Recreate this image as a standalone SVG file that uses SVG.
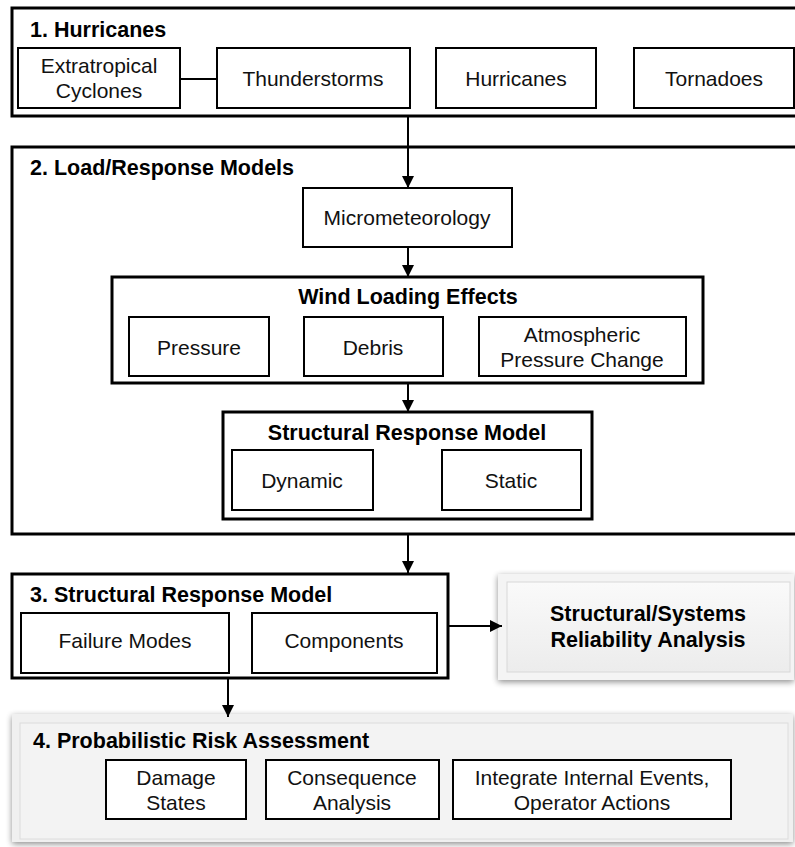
<svg xmlns="http://www.w3.org/2000/svg" width="795" height="847" viewBox="0 0 795 847">
<defs>
<style>
.outer{fill:#fff;stroke:#000;stroke-width:3}
.box{fill:#fff;stroke:#000;stroke-width:2}
.t{font-family:"Liberation Sans",Arial,sans-serif;font-size:21px;fill:#111;text-anchor:middle}
.h{font-family:"Liberation Sans",Arial,sans-serif;font-size:21.5px;font-weight:bold;fill:#000}
.c{fill:none;stroke:#000;stroke-width:2}
</style>
<marker id="arr" viewBox="0 0 12 12" refX="12" refY="6" markerWidth="12" markerHeight="12" markerUnits="userSpaceOnUse" orient="auto">
<path d="M0,0 L12,6 L0,12 Z" fill="#000"/>
</marker>
<filter id="sh" x="-5%" y="-10%" width="110%" height="125%">
<feGaussianBlur in="SourceAlpha" stdDeviation="3"/>
<feOffset dx="0" dy="2" result="b"/>
<feComponentTransfer><feFuncA type="linear" slope="0.45"/></feComponentTransfer>
<feMerge><feMergeNode/><feMergeNode in="SourceGraphic"/></feMerge>
</filter>
<linearGradient id="bev" x1="0" y1="0" x2="0" y2="1">
<stop offset="0" stop-color="#fafafa"/>
<stop offset="1" stop-color="#ececec"/>
</linearGradient>
</defs>
<rect width="795" height="847" fill="#fff"/>

<g id="hurricanes-group">
<rect class="outer" x="12" y="8" width="800" height="108"/>
<text class="h" x="30" y="37">1. Hurricanes</text>
</g>
<g id="extratropical">
<rect class="box" x="18" y="48" width="162" height="60"/>
<text class="t" x="99" y="73">Extratropical</text>
<text class="t" x="99" y="98">Cyclones</text>
</g>
<g id="thunderstorms">
<rect class="box" x="217" y="48" width="193" height="60"/>
<text class="t" x="313" y="86">Thunderstorms</text>
</g>
<g id="hurricanes">
<rect class="box" x="436" y="48" width="160" height="60"/>
<text class="t" x="516" y="86">Hurricanes</text>
</g>
<g id="tornadoes">
<rect class="box" x="634" y="48" width="160" height="60"/>
<text class="t" x="714" y="86">Tornadoes</text>
</g>

<g id="load-response">
<rect class="outer" x="12" y="147" width="800" height="387"/>
<text class="h" x="30" y="175">2. Load/Response Models</text>
</g>
<g id="micrometeorology">
<rect class="box" x="303" y="188" width="209" height="59"/>
<text class="t" x="407" y="225">Micrometeorology</text>
</g>
<g id="wind-loading">
<rect class="outer" x="112" y="277" width="591" height="106"/>
<text class="h" x="408" y="304" text-anchor="middle">Wind Loading Effects</text>
</g>
<g id="pressure">
<rect class="box" x="129" y="317" width="140" height="59"/>
<text class="t" x="199" y="355">Pressure</text>
</g>
<g id="debris">
<rect class="box" x="304" y="317" width="139" height="59"/>
<text class="t" x="373" y="355">Debris</text>
</g>
<g id="atmospheric">
<rect class="box" x="479" y="317" width="207" height="59"/>
<text class="t" x="582" y="342">Atmospheric</text>
<text class="t" x="582" y="367">Pressure Change</text>
</g>
<g id="structural-response-inner">
<rect class="outer" x="223" y="412" width="369" height="107"/>
<text class="h" x="407" y="440" text-anchor="middle">Structural Response Model</text>
</g>
<g id="dynamic">
<rect class="box" x="232" y="450" width="141" height="60"/>
<text class="t" x="302" y="488">Dynamic</text>
</g>
<g id="static">
<rect class="box" x="442" y="450" width="139" height="60"/>
<text class="t" x="511" y="488">Static</text>
</g>

<g id="structural-response">
<rect class="outer" x="12" y="574" width="436" height="104"/>
<text class="h" x="30" y="602">3. Structural Response Model</text>
</g>
<g id="failure-modes">
<rect class="box" x="21" y="613" width="208" height="60"/>
<text class="t" x="125" y="648">Failure Modes</text>
</g>
<g id="components">
<rect class="box" x="252" y="613" width="185" height="60"/>
<text class="t" x="344" y="648">Components</text>
</g>

<g id="reliability">
<rect x="498" y="574" width="296" height="106" fill="#f4f4f4" filter="url(#sh)"/>
<rect x="507" y="582" width="283" height="90" fill="url(#bev)" stroke="#d8d8d8" stroke-width="1"/>
<text class="h" x="648" y="621" text-anchor="middle">Structural/Systems</text>
<text class="h" x="648" y="647" text-anchor="middle">Reliability Analysis</text>
</g>

<g id="pra">
<rect x="12" y="714" width="781" height="128" fill="#f0f0f0" filter="url(#sh)"/>
<rect x="20" y="723" width="768" height="116" fill="#f3f3f3" stroke="#dcdcdc" stroke-width="1"/>
<text class="h" x="33" y="748">4. Probabilistic Risk Assessment</text>
</g>
<g id="damage-states">
<rect class="box" x="106" y="760" width="140" height="59"/>
<text class="t" x="176" y="785">Damage</text>
<text class="t" x="176" y="810">States</text>
</g>
<g id="consequence">
<rect class="box" x="266" y="760" width="173" height="59"/>
<text class="t" x="352" y="785">Consequence</text>
<text class="t" x="352" y="810">Analysis</text>
</g>
<g id="integrate">
<rect class="box" x="453" y="760" width="278" height="59"/>
<text class="t" x="592" y="785">Integrate Internal Events,</text>
<text class="t" x="592" y="810">Operator Actions</text>
</g>

<g id="connectors">
<line class="c" x1="180" y1="79" x2="217" y2="79"/>
<line class="c" x1="408" y1="116" x2="408" y2="188" marker-end="url(#arr)"/>
<line class="c" x1="408" y1="247" x2="408" y2="277" marker-end="url(#arr)"/>
<line class="c" x1="408" y1="383" x2="408" y2="412" marker-end="url(#arr)"/>
<line class="c" x1="408" y1="534" x2="408" y2="573" marker-end="url(#arr)"/>
<line class="c" x1="448" y1="626" x2="502" y2="626" marker-end="url(#arr)"/>
<line class="c" x1="228" y1="678" x2="228" y2="717" marker-end="url(#arr)"/>
</g>
</svg>
